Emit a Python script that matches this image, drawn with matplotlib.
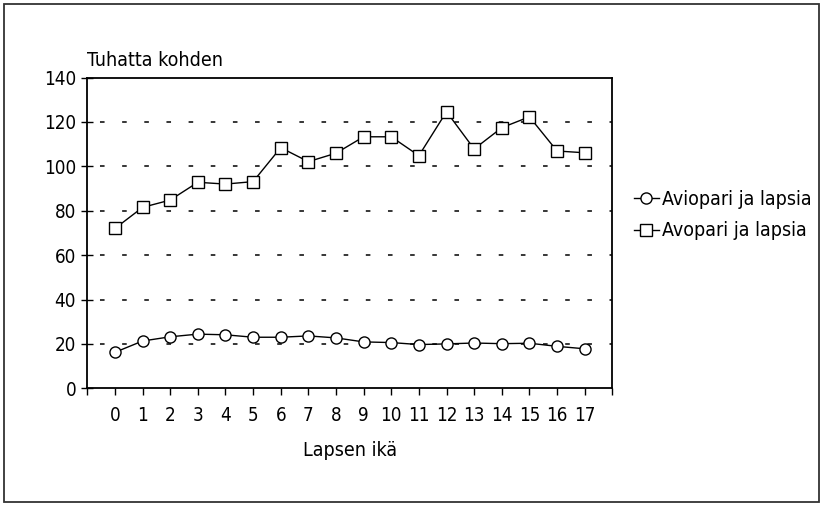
import matplotlib
matplotlib.use("Agg")
import matplotlib.pyplot as plt
from matplotlib.patches import Rectangle

# -----------------------------------------
# data
# -----------------------------------------
ages = list(range(18))
age_labels = [str(a) for a in ages]
aviopari = [16.2, 21.3, 23.2, 24.4, 24.1, 23.0, 23.0, 23.6, 22.7, 20.9,
            20.6, 19.7, 20.0, 20.4, 20.1, 20.3, 18.9, 17.8]
avopari = [72.0, 81.5, 84.8, 92.8, 92.0, 93.1, 108.4, 102.1, 105.9, 113.3,
           113.3, 104.8, 124.6, 107.8, 117.4, 122.3, 106.9, 106.1]
yticks = [0, 20, 40, 60, 80, 100, 120, 140]

plt.rcParams["font.family"] = ["Liberation Sans Narrow", "DejaVu Sans"]
plt.rcParams["font.stretch"] = "condensed"

fig = plt.figure(figsize=(8.22, 5.05), dpi=100)
ax = fig.add_axes([0.1062, 0.2311, 0.7449 - 0.1062, 0.8465 - 0.2311])

# outer frame around the whole chart
fig.patches.append(Rectangle((4 / 822, 1 - 502 / 505), 815 / 822, 498 / 505,
                             transform=fig.transFigure, fill=False,
                             edgecolor="#333333", lw=1.3))

l1, = ax.plot(ages, aviopari, color="black", lw=1, marker="o", ms=8,
              mfc="white", mec="black", mew=1, label="Aviopari ja lapsia")
l2, = ax.plot(ages, avopari, color="black", lw=1, marker="s", ms=8,
              mfc="white", mec="black", mew=1, label="Avopari ja lapsia")

ax.set_xlim(-1, 18)
ax.set_ylim(0, 140)
ax.set_xticks(range(-1, 19))
ax.set_xticklabels([""] + age_labels + [""])
ax.set_yticks(yticks)

for y in yticks[1:-1]:
    ax.axhline(y, color="black", lw=1.1, ls=(6, (3, 11.5)), zorder=0)

ax.tick_params(axis="x", direction="out", length=5, width=1, labelsize=13.5, pad=8)
ax.tick_params(axis="y", direction="inout", length=8, width=1, labelsize=13.5, pad=4)
for s in ax.spines.values():
    s.set_linewidth(1.3)

ax.text(0.0, 1.025, "Tuhatta kohden", transform=ax.transAxes, fontsize=14,
        ha="left", va="bottom")
ax.set_xlabel("Lapsen ikä", fontsize=14, labelpad=11)

fig.legend(handles=[l1, l2], loc="center left",
           bbox_to_anchor=(624 / 822, 1 - 215 / 505), frameon=False,
           handlelength=1.3, handletextpad=0.15, labelspacing=0.65,
           fontsize=14, borderpad=0)

fig.savefig("out.png", dpi=100)
